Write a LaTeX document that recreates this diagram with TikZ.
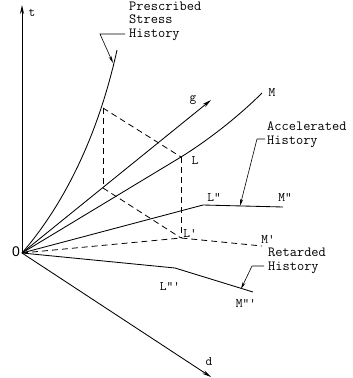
\documentclass[tikz,border=0pt]{standalone}
\usepackage{fontspec}
\newfontfamily\zerofont{Liberation Sans}
\usetikzlibrary{arrows.meta}
\begin{document}
\begin{tikzpicture}[x=1pt,y=-1pt,
  ln/.style={line width=0.85pt},
  dsh/.style={line width=0.8pt, dash pattern=on 6pt off 4pt},
  ax/.style={line width=0.85pt,-{Stealth[length=9pt,width=4pt]}},
  lead/.style={line width=0.6pt,-{Stealth[length=7pt,width=3pt]}},
  lbl/.style={font=\ttfamily\fontsize{13}{13}\selectfont, inner sep=0pt},
  txt/.style={font=\ttfamily\fontsize{14}{13.5}\selectfont, align=left, inner sep=0pt, anchor=base west}]
\useasboundingbox (0,0) rectangle (353,378);
% key points
\coordinate (O) at (22,253);
\coordinate (T) at (22,5);
\coordinate (G) at (211,100);
\coordinate (D) at (211,377);
\coordinate (PS) at (117,50);
\coordinate (Q) at (103,188);
\coordinate (P) at (103,108);
\coordinate (L) at (181,157);
\coordinate (Lp) at (181,238);
\coordinate (M) at (262,93);
\coordinate (Mp) at (262,246);
\coordinate (Lpp) at (203,205);
\coordinate (Mpp) at (283,207);
\coordinate (Lppp) at (175,268);
\coordinate (Mppp) at (253,292);
% axes
\draw[ax] (O) -- (T);
\draw[ax] (O) -- (G);
\draw[ax] (O) -- (D);
% prescribed stress history
\draw[ln] (O) .. controls (55,215) and (95,150) .. (PS);
% histories
\draw[ln] (O) -- (L) .. controls (210,139) and (240,115) .. (M);
\draw[ln] (O) -- (Lpp) -- (Mpp);
\draw[ln] (O) -- (Lppp) -- (Mppp);
\draw[dsh] (O) -- (Lp) -- (Mp);
% parallelogram construction
\draw[dsh] (P) -- (Q);
\draw[dsh] (P) -- (L);
\draw[dsh] (L) -- (Lp);
\draw[dsh] (Q) -- (Lp);
% labels
\node[inner sep=0pt, font=\zerofont\fontsize{14}{14}\selectfont] (n0) at (16,252) {0};
\node[lbl] (nt) at (32,13) {t};
\node[lbl] (ng) at (193,100) {g};
\node[lbl] (nd) at (209,362) {d};
\node[lbl] (nM) at (272,93) {M};
\node[lbl] (nL) at (195,161) {L};
\node[lbl] (nLpp) at (214,197) {L"};
\node[lbl] (nMpp) at (285,197) {M"};
\node[lbl] (nLp) at (190,233) {L'};
\node[lbl] (nMp) at (268,239) {M'};
\node[lbl] (nLppp) at (170,286) {L"'};
\node[lbl] (nMppp) at (246,303) {M"'};
% annotations
\node[txt] (tps) at (129,37) {Prescribed\\Stress\\History};
\node[txt] (tac) at (267,144) {Accelerated\\History};
\node[txt] (tre) at (268,270) {Retarded\\History};
\coordinate (a1) at (125,34);
\coordinate (a2) at (100,34);
\coordinate (a3) at (113,63);
\draw[lead] (a1) -- (a2) -- (a3);
\coordinate (b1) at (265,139);
\coordinate (b2) at (257,139);
\coordinate (b3) at (240,206);
\draw[lead] (b1) -- (b2) -- (b3);
\coordinate (c1) at (264,266);
\coordinate (c2) at (252,266);
\coordinate (c3) at (241,289);
\draw[lead] (c1) -- (c2) -- (c3);
\end{tikzpicture}
\end{document}
